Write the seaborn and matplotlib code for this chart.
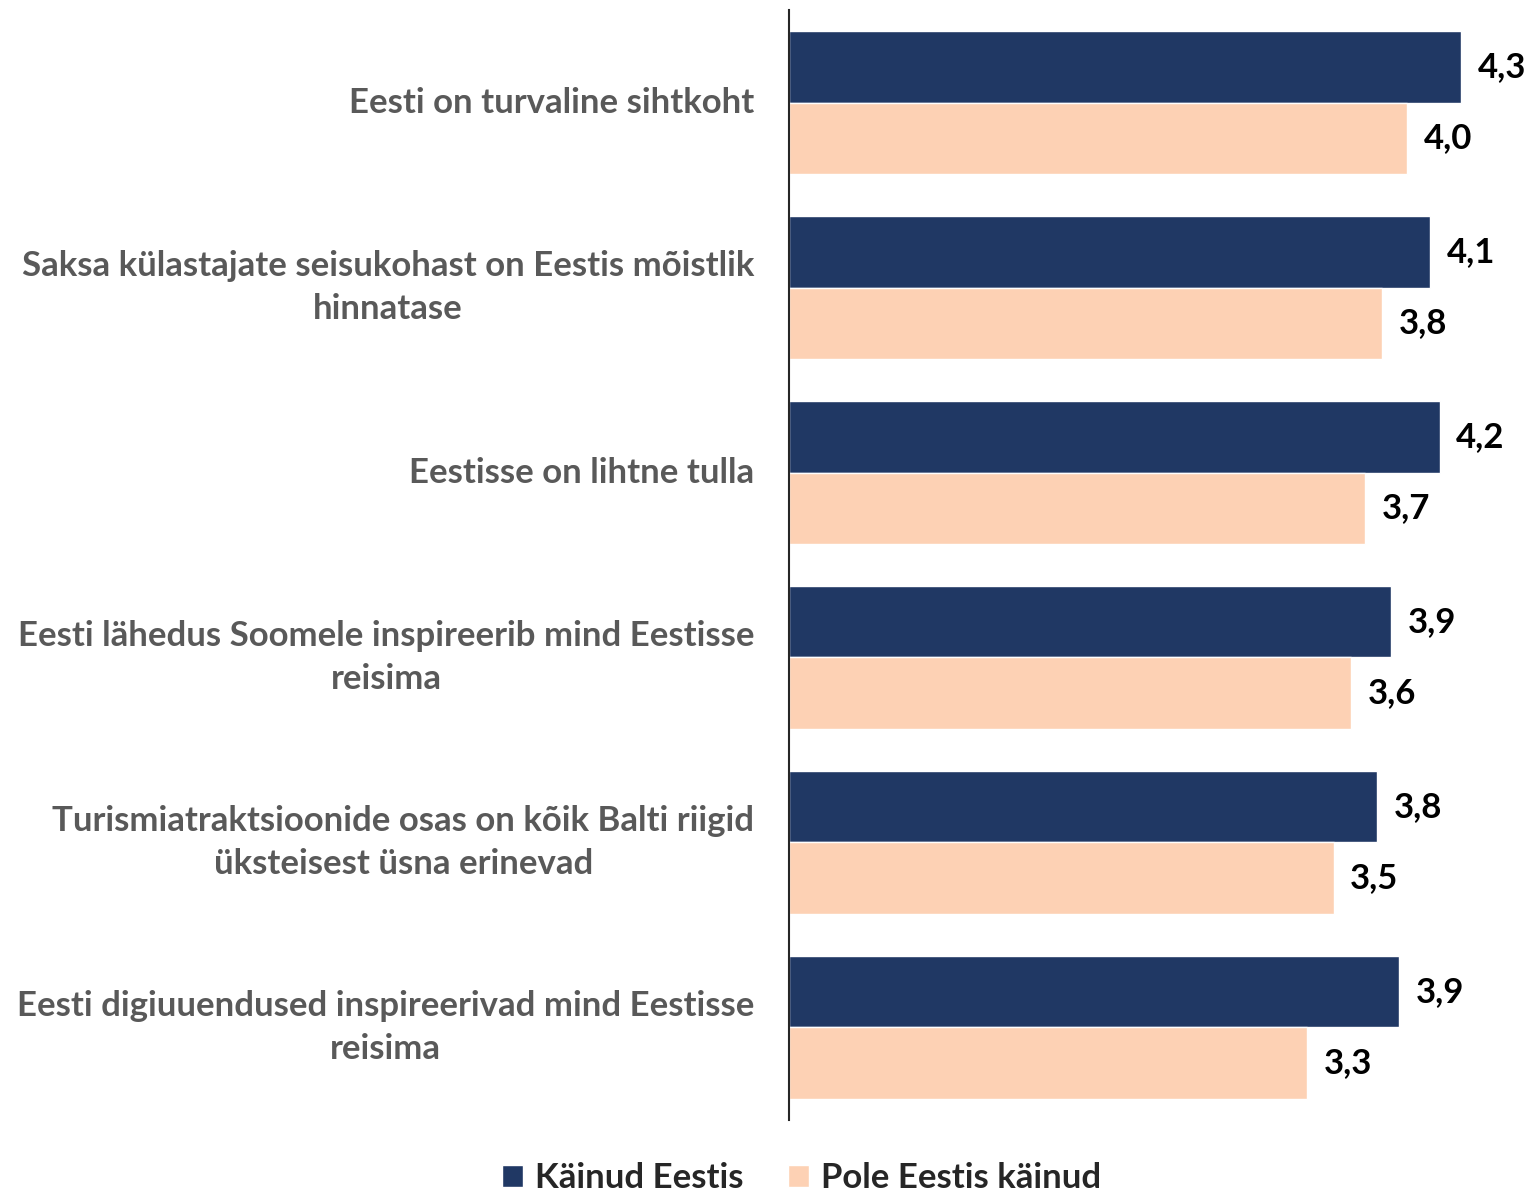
import pandas as pd
import matplotlib.pyplot as plt
import seaborn as sns

# Andmed
categories = [
    "Eesti on turvaline sihtkoht",
    "Saksa külastajate seisukohast on Eestis mõistlik\nhinnatase",
    "Eestisse on lihtne tulla",
    "Eesti lähedus Soomele inspireerib mind Eestisse\nreisima",
    "Turismiatraktsioonide osas on kõik Balti riigid\nüksteisest üsna erinevad",
    "Eesti digiuuendused inspireerivad mind Eestisse\nreisima",
]
series = ["Käinud Eestis", "Pole Eestis käinud"]
kainud = [4.31, 4.11, 4.17, 3.86, 3.77, 3.91]
pole_kainud = [3.96, 3.80, 3.69, 3.60, 3.49, 3.32]

df = pd.DataFrame({
    "Väide": categories * 2,
    "Grupp": [series[0]] * len(categories) + [series[1]] * len(categories),
    "Hinne": kainud + pole_kainud,
})

sns.set_style("white")
plt.rcParams["font.family"] = ["Lato", "DejaVu Sans"]

fig = plt.figure(figsize=(15.27, 11.95), dpi=100)
ax = fig.add_axes([0.5167, 0.0628, 0.4833, 0.9288])

sns.barplot(data=df, y="Väide", x="Hinne", hue="Grupp", orient="h",
            palette=["#203864", "#FDD1B4"], width=0.77, ax=ax,
            saturation=1, legend=True)

ax.set_xlim(0, 4.73)
ax.set_ylim(5.5, -0.5)
ax.set_xlabel("")
ax.set_ylabel("")
ax.set_xticks([])
for s in ["top", "right", "bottom"]:
    ax.spines[s].set_visible(False)
ax.spines["left"].set_color("#262626")
ax.spines["left"].set_linewidth(1.5)

ax.tick_params(axis="y", length=0, pad=25)
for lbl in ax.get_yticklabels():
    lbl.set_fontsize(25)
    lbl.set_fontweight("bold")
    lbl.set_color("#595959")
    lbl.set_multialignment("center")
    lbl.set_linespacing(1.45)
    lbl.set_verticalalignment("center")

# Väärtused
for cont in ax.containers:
    ax.bar_label(cont, labels=[f"{v.get_width():.1f}".replace(".", ",") for v in cont],
                 padding=12, fontsize=25, fontweight="bold", color="black")

# Legend
handles, labels = ax.get_legend_handles_labels()
ax.legend_.remove()
fig.legend(handles, labels, loc="center", bbox_to_anchor=(0.525, 0.014),
           ncol=2, frameon=False, prop={"weight": "bold", "size": 25},
           handlelength=0.6, handleheight=0.6, handletextpad=0.35, columnspacing=1.3)

fig.savefig("out.png", dpi=100)
